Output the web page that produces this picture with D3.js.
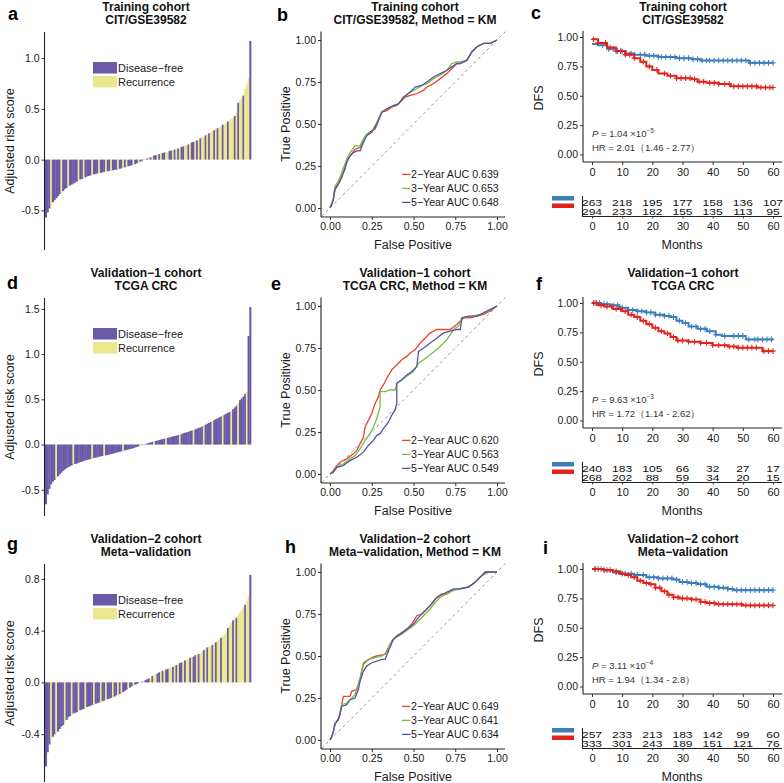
<!DOCTYPE html>
<html><head><meta charset="utf-8">
<script src="https://cdn.jsdelivr.net/npm/d3@7"></script>
<style>
body{margin:0;background:#fff;}
svg text{font-family:"Liberation Sans",Arial,Helvetica,sans-serif;}
</style></head><body>
<script>
// ---------------- DATA ----------------
const groupLabels = ["Disease\u2212free", "Recurrence"];
const rocLabels = ["2\u2212Year AUC", "3\u2212Year AUC", "5\u2212Year AUC"];
const monthTicks = [0, 10, 20, 30, 40, 50, 60];

// Waterfall (sorted adjusted risk scores) + status (1 = recurrence)
const scoreCIT = [-0.57,-0.52,-0.48,-0.45,-0.42,-0.40,-0.38,-0.36,-0.34,-0.33,
-0.31,-0.29,-0.28,-0.27,-0.255,-0.245,-0.235,-0.225,-0.215,-0.205,
-0.195,-0.19,-0.18,-0.175,-0.165,-0.16,-0.155,-0.15,-0.145,-0.14,
-0.135,-0.13,-0.13,-0.125,-0.12,-0.12,-0.115,-0.11,-0.11,-0.105,
-0.10,-0.10,-0.095,-0.09,-0.085,-0.08,-0.075,-0.07,-0.065,-0.06,
-0.055,-0.05,-0.045,-0.035,-0.03,-0.02,-0.01,-0.003,0.005,0.012,
0.02,0.025,0.032,0.04,0.045,0.05,0.055,0.06,0.065,0.07,
0.075,0.08,0.085,0.09,0.095,0.10,0.105,0.11,0.12,0.125,
0.13,0.14,0.145,0.15,0.16,0.17,0.175,0.185,0.19,0.20,
0.21,0.22,0.23,0.24,0.25,0.26,0.27,0.28,0.29,0.30,
0.31,0.32,0.33,0.345,0.355,0.365,0.375,0.385,0.40,0.41,
0.43,0.46,0.56,0.58,0.61,0.63,0.70,0.74,0.80,1.17];
const statusCIT = "000100000100010000010010000100" + "010001001000100101000100100010" +
                  "101001010011001010100110100101" + "011010110101101101110101101110";

const scoreTCGA = [-0.66,-0.55,-0.49,-0.44,-0.41,-0.39,-0.37,-0.35,-0.33,-0.31,
-0.29,-0.275,-0.26,-0.25,-0.24,-0.23,-0.22,-0.215,-0.21,-0.20,
-0.195,-0.19,-0.18,-0.175,-0.17,-0.165,-0.16,-0.155,-0.15,-0.145,
-0.14,-0.135,-0.13,-0.125,-0.12,-0.12,-0.115,-0.11,-0.105,-0.10,
-0.095,-0.09,-0.085,-0.08,-0.075,-0.07,-0.065,-0.06,-0.055,-0.05,
-0.045,-0.04,-0.032,-0.025,-0.018,-0.012,-0.006,0.002,0.006,0.012,
0.018,0.024,0.03,0.035,0.04,0.045,0.05,0.055,0.06,0.065,
0.07,0.075,0.08,0.085,0.09,0.095,0.10,0.105,0.11,0.115,
0.125,0.13,0.135,0.14,0.15,0.155,0.16,0.17,0.175,0.185,
0.19,0.20,0.21,0.22,0.23,0.24,0.25,0.26,0.27,0.28,
0.29,0.30,0.31,0.32,0.33,0.34,0.35,0.36,0.375,0.39,
0.41,0.43,0.46,0.49,0.51,0.53,0.56,0.58,1.2,1.52];
const statusTCGA = "000000100000000010000000000100" + "000010000000000100000000010000" +
                   "000100000010000000100000001000" + "001000010000010000100010000100";

const scoreMeta = [-0.65,-0.54,-0.48,-0.44,-0.42,-0.40,-0.39,-0.38,-0.36,-0.34,
-0.33,-0.31,-0.29,-0.27,-0.26,-0.25,-0.24,-0.235,-0.23,-0.22,
-0.215,-0.21,-0.205,-0.20,-0.19,-0.185,-0.18,-0.175,-0.17,-0.165,
-0.16,-0.155,-0.15,-0.145,-0.14,-0.135,-0.13,-0.125,-0.12,-0.115,
-0.11,-0.10,-0.095,-0.09,-0.08,-0.075,-0.065,-0.055,-0.045,-0.04,
-0.03,-0.025,-0.018,-0.012,-0.005,0.002,0.006,0.012,0.018,0.025,
0.03,0.04,0.05,0.058,0.065,0.07,0.078,0.085,0.09,0.095,
0.10,0.105,0.11,0.115,0.12,0.13,0.135,0.14,0.15,0.155,
0.16,0.17,0.175,0.18,0.19,0.195,0.20,0.21,0.215,0.22,
0.23,0.24,0.25,0.26,0.27,0.275,0.28,0.29,0.30,0.31,
0.32,0.33,0.345,0.36,0.37,0.39,0.42,0.44,0.46,0.48,
0.49,0.50,0.52,0.54,0.56,0.58,0.60,0.63,0.67,0.83];
const statusMeta = "000100100001000100010001000010" + "001001000100101000100100010100" +
                   "010110010100110101001011010010" + "110101101011011101101011110110";

// ROC curves [false positive, true positive]
const rocCIT_2y = [[0,0],[0.01,0.02],[0.02,0.05],[0.03,0.12],[0.05,0.15],[0.07,0.19],[0.09,0.23],[0.1,0.28],[0.12,0.31],[0.15,0.35],[0.18,0.36],[0.2,0.40],[0.22,0.44],[0.25,0.46],[0.27,0.47],[0.29,0.52],[0.31,0.57],[0.34,0.58],[0.37,0.60],[0.40,0.61],[0.43,0.64],[0.45,0.66],[0.48,0.67],[0.52,0.68],[0.56,0.70],[0.58,0.72],[0.62,0.74],[0.66,0.77],[0.70,0.80],[0.73,0.83],[0.76,0.86],[0.78,0.86],[0.80,0.87],[0.82,0.88],[0.85,0.93],[0.88,0.96],[0.92,0.98],[0.96,0.98],[1,1]];
const rocCIT_3y = [[0,0],[0.01,0.03],[0.02,0.06],[0.03,0.13],[0.05,0.16],[0.07,0.21],[0.1,0.29],[0.12,0.33],[0.15,0.37],[0.18,0.37],[0.2,0.41],[0.22,0.44],[0.25,0.45],[0.28,0.51],[0.31,0.57],[0.34,0.59],[0.38,0.61],[0.41,0.62],[0.44,0.66],[0.48,0.69],[0.52,0.71],[0.55,0.73],[0.58,0.74],[0.62,0.77],[0.66,0.79],[0.70,0.82],[0.73,0.86],[0.76,0.87],[0.78,0.87],[0.82,0.88],[0.85,0.93],[0.88,0.96],[0.92,0.98],[0.96,0.98],[1,1]];
const rocCIT_5y = [[0,0],[0.01,0.02],[0.02,0.05],[0.03,0.11],[0.05,0.14],[0.07,0.18],[0.1,0.27],[0.12,0.31],[0.14,0.33],[0.16,0.34],[0.18,0.34],[0.2,0.39],[0.22,0.43],[0.25,0.45],[0.28,0.50],[0.31,0.57],[0.34,0.59],[0.38,0.61],[0.41,0.62],[0.44,0.66],[0.48,0.69],[0.51,0.72],[0.55,0.73],[0.58,0.75],[0.62,0.78],[0.66,0.80],[0.70,0.82],[0.73,0.84],[0.76,0.86],[0.78,0.86],[0.82,0.88],[0.85,0.93],[0.88,0.96],[0.92,0.98],[0.96,0.98],[1,1]];
const aucCIT = ["0.639", "0.653", "0.648"];

const rocTCGA_2y = [[0,0],[0.02,0.02],[0.04,0.05],[0.06,0.07],[0.10,0.09],[0.14,0.12],[0.16,0.14],[0.18,0.18],[0.20,0.22],[0.21,0.28],[0.23,0.32],[0.25,0.36],[0.27,0.42],[0.29,0.46],[0.30,0.50],[0.32,0.53],[0.34,0.57],[0.37,0.62],[0.40,0.65],[0.43,0.68],[0.46,0.70],[0.48,0.72],[0.51,0.74],[0.54,0.78],[0.57,0.81],[0.60,0.84],[0.64,0.86],[0.68,0.86],[0.72,0.86],[0.76,0.89],[0.80,0.93],[0.84,0.93],[0.88,0.94],[0.92,0.95],[0.96,0.97],[1,1]];
const rocTCGA_3y = [[0,0],[0.02,0.01],[0.04,0.04],[0.08,0.06],[0.12,0.09],[0.15,0.11],[0.18,0.15],[0.21,0.20],[0.24,0.24],[0.26,0.28],[0.28,0.33],[0.30,0.40],[0.30,0.49],[0.33,0.49],[0.36,0.50],[0.39,0.50],[0.40,0.54],[0.44,0.57],[0.47,0.59],[0.50,0.61],[0.53,0.66],[0.56,0.68],[0.60,0.71],[0.65,0.75],[0.70,0.80],[0.74,0.86],[0.77,0.88],[0.79,0.93],[0.85,0.94],[0.90,0.95],[0.95,0.97],[1,1]];
const rocTCGA_5y = [[0,0],[0.02,0.01],[0.04,0.04],[0.08,0.05],[0.12,0.08],[0.16,0.10],[0.20,0.13],[0.23,0.17],[0.26,0.20],[0.28,0.23],[0.30,0.24],[0.32,0.27],[0.35,0.31],[0.37,0.35],[0.39,0.38],[0.40,0.42],[0.40,0.54],[0.43,0.56],[0.46,0.59],[0.49,0.61],[0.52,0.64],[0.53,0.73],[0.56,0.75],[0.60,0.78],[0.64,0.81],[0.68,0.84],[0.72,0.85],[0.76,0.86],[0.78,0.86],[0.79,0.93],[0.83,0.94],[0.88,0.94],[0.92,0.96],[0.96,0.98],[1,1]];
const aucTCGA = ["0.620", "0.563", "0.549"];

const rocMeta_2y = [[0,0],[0.01,0.02],[0.02,0.05],[0.03,0.09],[0.04,0.11],[0.06,0.15],[0.07,0.21],[0.08,0.26],[0.12,0.26],[0.13,0.29],[0.16,0.30],[0.18,0.36],[0.19,0.41],[0.20,0.45],[0.22,0.47],[0.25,0.49],[0.28,0.50],[0.33,0.51],[0.35,0.55],[0.37,0.59],[0.40,0.62],[0.43,0.64],[0.46,0.66],[0.49,0.69],[0.52,0.74],[0.55,0.75],[0.58,0.78],[0.61,0.81],[0.64,0.85],[0.67,0.87],[0.70,0.87],[0.73,0.89],[0.77,0.90],[0.82,0.91],[0.86,0.93],[0.88,0.95],[0.91,0.98],[0.93,1.0],[1,1]];
const rocMeta_3y = [[0,0],[0.01,0.02],[0.02,0.05],[0.03,0.10],[0.05,0.12],[0.06,0.16],[0.07,0.21],[0.10,0.22],[0.12,0.24],[0.15,0.27],[0.18,0.37],[0.20,0.46],[0.23,0.48],[0.27,0.49],[0.31,0.50],[0.34,0.52],[0.36,0.57],[0.39,0.61],[0.43,0.63],[0.47,0.66],[0.50,0.68],[0.53,0.71],[0.57,0.75],[0.60,0.78],[0.63,0.82],[0.66,0.85],[0.70,0.87],[0.74,0.89],[0.78,0.90],[0.83,0.91],[0.87,0.94],[0.90,0.97],[0.93,0.99],[0.96,1.0],[1,1]];
const rocMeta_5y = [[0,0],[0.01,0.02],[0.02,0.05],[0.03,0.10],[0.05,0.12],[0.06,0.16],[0.07,0.20],[0.10,0.21],[0.12,0.24],[0.15,0.25],[0.17,0.30],[0.18,0.35],[0.20,0.41],[0.22,0.44],[0.25,0.46],[0.28,0.47],[0.31,0.48],[0.33,0.48],[0.35,0.53],[0.38,0.60],[0.42,0.63],[0.46,0.66],[0.50,0.69],[0.53,0.73],[0.56,0.76],[0.60,0.80],[0.63,0.84],[0.66,0.86],[0.70,0.88],[0.74,0.90],[0.78,0.90],[0.83,0.91],[0.87,0.94],[0.90,0.97],[0.93,1.0],[0.97,1.0],[1,1]];
const aucMeta = ["0.649", "0.641", "0.634"];

// Kaplan-Meier curves [month, DFS]; low risk (blue), high risk (red)
const kmCIT_low  = [[0,0.94],[2,0.93],[5,0.90],[8,0.88],[11,0.86],[14,0.85],[18,0.84],[22,0.83],[28,0.82],[33,0.81],[36,0.80],[40,0.80],[50,0.80],[52,0.78],[60,0.78]];
const kmCIT_high = [[0,0.98],[2,0.95],[5,0.91],[8,0.88],[11,0.85],[14,0.82],[16,0.79],[18,0.75],[20,0.72],[22,0.69],[25,0.67],[28,0.65],[33,0.64],[35,0.62],[38,0.61],[42,0.60],[46,0.58],[55,0.57],[60,0.57]];
const cenCIT_low  = [3.5,5.5,7,8.5,10,11.5,13,14,16,17.5,19,20.5,22,23,24.5,26,27.5,29,30.5,32,33.5,35,36.5,38,39,40.5,42,43.5,45,46.5,48,49.5,51,52.5,54,55.5,57,58.5,60];
const cenCIT_high = [0.5,2,4.5,6,8,9.5,11,12.5,14,17,19,21.5,24,26,28,29.5,31,32.5,34,35.5,37,39,40.5,42,44,45.5,47,48.5,50,51.5,53,54.5,56,57.5,59,60];
const riskCIT_low  = [263,218,195,177,158,136,107];
const riskCIT_high = [294,233,182,155,135,113,95];

const kmTCGA_low  = [[0,1.0],[3,0.99],[6,0.98],[9,0.96],[12,0.94],[15,0.93],[18,0.92],[21,0.90],[24,0.89],[26,0.88],[28,0.85],[30,0.83],[32,0.80],[35,0.78],[38,0.76],[41,0.73],[43,0.72],[50,0.72],[51,0.69],[60,0.69]];
const kmTCGA_high = [[0,1.0],[2,0.98],[4,0.97],[7,0.95],[10,0.93],[12,0.90],[14,0.88],[16,0.85],[18,0.82],[20,0.79],[22,0.76],[24,0.74],[26,0.71],[28,0.68],[32,0.67],[36,0.66],[40,0.64],[45,0.63],[48,0.62],[56,0.62],[56.5,0.59],[60,0.59]];
const cenTCGA_low  = [1,2.5,4,5,7,8.5,10,12,13.5,15,16.5,18,19.5,21,22.5,24,25.5,27,29,31,33,34.5,36,37.5,39,41,44,47,48.5,50,52,54,55,56.5,58,59.5];
const cenTCGA_high = [0.5,1.5,3,5,6.5,8,9.5,11,13,15,17,19,21,23,25,27,28.5,30,32,34,36,38,40,42,44,45.5,47,48.5,50,51.5,53,54.5,57,58.5,60];
const riskTCGA_low  = [240,183,105,66,32,27,17];
const riskTCGA_high = [268,202,88,59,34,20,15];

const kmMeta_low  = [[0,1.0],[4,0.99],[7,0.97],[10,0.96],[14,0.95],[18,0.93],[22,0.92],[27,0.91],[29,0.89],[32,0.88],[35,0.87],[38,0.85],[42,0.84],[45,0.83],[47,0.82],[60,0.82]];
const kmMeta_high = [[0,1.0],[4,0.99],[7,0.98],[9,0.96],[11,0.95],[13,0.93],[15,0.90],[17,0.88],[19,0.87],[21,0.84],[23,0.81],[25,0.78],[27,0.76],[29,0.75],[33,0.74],[36,0.72],[38,0.71],[41,0.70],[50,0.69],[60,0.69]];
const cenMeta_low  = [1,3,5,8,9.5,11,13,15,17,19,20.5,22,23.5,25,26.5,28,30,31.5,33,34.5,36,37.5,39,40.5,42,43.5,45,46.5,48,49.5,51,52.5,54,55.5,57,58.5,60];
const cenMeta_high = [1,2,4,6,8,10,12,14,16,18,19.5,21,22.5,24,25.5,27,28.5,30,31.5,33,34.5,36,37.5,39,40.5,42,43.5,45,46.5,48,49.5,51,52.5,54,55.5,57,58.5,60];
const riskMeta_low  = [257,233,213,183,142,99,60];
const riskMeta_high = [333,301,243,189,151,121,76];

const pCIT = ["1.04", "\u22125"], hrCIT = "HR = 2.01\uFF081.46 - 2.77\uFF09";
const pTCGA = ["9.63", "\u22123"], hrTCGA = "HR = 1.72\uFF081.14 - 2.62\uFF09";
const pMeta = ["3.11", "\u22124"], hrMeta = "HR = 1.94\uFF081.34 - 2.8\uFF09";

// ---------------- DRAWING ----------------
const C = {purple:"#6a5aa8", yellow:"#ebe78e", red:"#e8432f", green:"#76c043", blue:"#5454a6",
           kmBlue:"#3a7ebb", kmRed:"#e2231d"};
const rowY = [0, 266, 532];
const svg = d3.select("body").append("svg").attr("width", 784).attr("height", 783);
svg.append("rect").attr("width",784).attr("height",783).attr("fill","#fff");

function styleAxis(sel) {
  sel.attr("font-family", '"Liberation Sans", Arial, sans-serif').attr("font-size", 10.5);
  sel.select(".domain").remove();
  sel.selectAll(".tick line").attr("stroke", "#333");
  sel.selectAll(".tick text").attr("fill", "#1a1a1a");
}
function vline(g, x, y1, y2, w) { g.append("line").attr("x1",x).attr("x2",x).attr("y1",y1).attr("y2",y2).attr("stroke","#222").attr("stroke-width",w||1.1); }
function hline(g, y, x1, x2, w) { g.append("line").attr("x1",x1).attr("x2",x2).attr("y1",y).attr("y2",y).attr("stroke","#222").attr("stroke-width",w||1.1); }
function titles(g, cx, t1, t2) {
  [t1, t2].forEach((t, i) => g.append("text").attr("x", cx).attr("y", 11 + 13 * i)
    .attr("text-anchor","middle").attr("font-weight","bold").attr("font-size",12).attr("fill","#111").text(t));
}
function letter(x, y, t) {
  svg.append("text").attr("x",x).attr("y",y).attr("font-weight","bold").attr("font-size",18).attr("fill","#000").text(t);
}
function yTitle(g, x, y, t) {
  g.append("text").attr("transform",`translate(${x},${y}) rotate(-90)`).attr("text-anchor","middle")
    .attr("font-size",12.5).attr("fill","#1a1a1a").text(t);
}

function drawWaterfall(row, values, status, domain, ticks, t1, t2) {
  const g = svg.append("g").attr("transform", `translate(0,${rowY[row]})`);
  const x = d3.scaleBand().domain(d3.range(values.length)).range([45, 251]).padding(0);
  const y = d3.scaleLinear().domain(domain).range([250, 32]);
  g.selectAll("rect.bar").data(values).join("rect").attr("class","bar")
    .attr("x", (d, i) => x(i)).attr("width", x.bandwidth() + 0.35)
    .attr("y", d => y(Math.max(0, d))).attr("height", d => Math.abs(y(d) - y(0)))
    .attr("fill", (d, i) => status[i] === "1" ? C.yellow : C.purple);
  const ax = g.append("g").attr("transform","translate(44.5,0)")
    .call(d3.axisLeft(y).tickValues(ticks).tickSize(3).tickPadding(2).tickFormat(d => d.toFixed(1)));
  styleAxis(ax);
  vline(g, 44.5, 32, 250);
  yTitle(g, 14, 141, "Adjusted risk score");
  titles(g, 146, t1, t2);
  groupLabels.forEach((lab, i) => {
    g.append("rect").attr("x",93).attr("y",62 + 14 * i).attr("width",24).attr("height",11.5)
      .attr("fill", i === 0 ? C.purple : C.yellow);
    g.append("text").attr("x",118).attr("y",72 + 14 * i).attr("font-size",11).attr("fill","#1a1a1a").text(lab);
  });
}

function drawROC(row, curves, aucs, t1, t2) {
  const g = svg.append("g").attr("transform", `translate(0,${rowY[row]})`);
  const x = d3.scaleLinear().domain([0, 1]).range([330, 497]);
  const y = d3.scaleLinear().domain([0, 1]).range([208, 40]);
  const tf = d3.format(".2f");
  g.append("line").attr("x1", x(-0.05)).attr("y1", y(-0.05)).attr("x2", x(1.05)).attr("y2", y(1.05))
    .attr("stroke","#9a9a9a").attr("stroke-width",1).attr("stroke-dasharray","3,3");
  const line = d3.line().x(d => x(d[0])).y(d => y(d[1]));
  const cols = [C.red, C.green, C.blue];
  curves.forEach((c, i) => g.append("path").datum(c).attr("d", line).attr("fill","none")
    .attr("stroke", cols[i]).attr("stroke-width", 1.3));
  const ay = g.append("g").attr("transform","translate(321,0)")
    .call(d3.axisLeft(y).tickValues([0,0.25,0.5,0.75,1]).tickSize(3).tickPadding(2).tickFormat(tf));
  styleAxis(ay);
  const ax = g.append("g").attr("transform","translate(0,217)")
    .call(d3.axisBottom(x).tickValues([0,0.25,0.5,0.75,1]).tickSize(3).tickPadding(3).tickFormat(tf));
  styleAxis(ax);
  vline(g, 321, 31.5, 217);
  hline(g, 217, 321, 505);
  yTitle(g, 290, 124, "True Positivie");
  g.append("text").attr("x",413).attr("y",249).attr("text-anchor","middle").attr("font-size",12.5).attr("fill","#1a1a1a").text("False Positive");
  titles(g, 415, t1, t2);
  rocLabels.forEach((lab, i) => {
    const by = 178 + 14 * i;
    g.append("line").attr("x1",402).attr("x2",410.5).attr("y1",by - 3.6).attr("y2",by - 3.6).attr("stroke",cols[i]).attr("stroke-width",1.3);
    g.append("text").attr("x",411).attr("y",by).attr("font-size",10.6).attr("fill","#1a1a1a").text(lab + " " + aucs[i]);
  });
}

function stepAt(curve, t) {
  let v = curve[0][1];
  for (const p of curve) { if (p[0] <= t) v = p[1]; else break; }
  return v;
}

function drawKM(row, low, high, cLow, cHigh, rLow, rHigh, p, hr, t1, t2) {
  const g = svg.append("g").attr("transform", `translate(0,${rowY[row]})`);
  const x = d3.scaleLinear().domain([0, 60]).range([592, 773]);
  const y = d3.scaleLinear().domain([0, 1]).range([154.5, 37]);
  const line = d3.line().x(d => x(d[0])).y(d => y(d[1])).curve(d3.curveStepAfter);
  [[low, cLow, C.kmBlue], [high, cHigh, C.kmRed]].forEach(([cv, cen, col]) => {
    g.append("path").datum(cv).attr("d", line).attr("fill","none").attr("stroke",col).attr("stroke-width",2);
    g.selectAll(null).data(cen).join("path")
      .attr("transform", t => `translate(${x(t)},${y(stepAt(cv, t))})`)
      .attr("d","M-2.6,0H2.6M0,-2.8V2.8").attr("stroke",col).attr("stroke-width",1.1);
  });
  const ay = g.append("g").attr("transform","translate(583,0)")
    .call(d3.axisLeft(y).tickValues([0,0.25,0.5,0.75,1]).tickSize(3).tickPadding(2).tickFormat(d3.format(".2f")));
  styleAxis(ay);
  const ax = g.append("g").attr("transform","translate(0,162)")
    .call(d3.axisBottom(x).tickValues(monthTicks).tickSize(3).tickPadding(3));
  styleAxis(ax);
  ax.attr("font-size", 11);
  vline(g, 583, 31, 162);
  hline(g, 162, 583, 782);
  yTitle(g, 543, 98, "DFS");
  titles(g, 683, t1, t2);
  const pt = g.append("text").attr("x",592).attr("y",136.5).attr("font-size",9.5).attr("fill","#333");
  pt.append("tspan").attr("font-style","italic").text("P");
  pt.append("tspan").text(" = " + p[0] + " \u00D710");
  pt.append("tspan").attr("dy",-4).attr("font-size",6.5).text(p[1]);
  g.append("text").attr("x",592).attr("y",151).attr("font-size",9.5).attr("fill","#333").text(hr);
  // risk table
  g.append("rect").attr("x",552).attr("y",196).attr("width",22).attr("height",4.5).attr("fill",C.kmBlue);
  g.append("rect").attr("x",552).attr("y",203.5).attr("width",22).attr("height",4.5).attr("fill",C.kmRed);
  [[rLow, 205.8], [rHigh, 214.8]].forEach(([vals, by]) => {
    g.selectAll(null).data(vals).join("text")
      .attr("transform", (d, i) => `translate(${x(monthTicks[i])},${by}) scale(1.05,0.78)`)
      .attr("text-anchor","middle").attr("font-size",11.5).attr("fill","#111").text(d => d);
  });
  vline(g, 582.5, 196, 216.5);
  hline(g, 216.5, 582, 782);
  const at = g.append("g").attr("transform","translate(0,216.5)")
    .call(d3.axisBottom(x).tickValues(monthTicks).tickSize(2).tickPadding(4));
  styleAxis(at);
  at.attr("font-size", 11);
  g.append("text").attr("x",682).attr("y",249).attr("text-anchor","middle").attr("font-size",12.5).attr("fill","#1a1a1a").text("Months");
}

drawWaterfall(0, scoreCIT, statusCIT, [-0.89, 1.257], [-0.5, 0, 0.5, 1.0], "Training cohort", "CIT/GSE39582");
drawROC(0, [rocCIT_2y, rocCIT_3y, rocCIT_5y], aucCIT, "Training cohort", "CIT/GSE39582, Method = KM");
drawKM(0, kmCIT_low, kmCIT_high, cenCIT_low, cenCIT_high, riskCIT_low, riskCIT_high, pCIT, hrCIT, "Training cohort", "CIT/GSE39582");

drawWaterfall(1, scoreTCGA, statusTCGA, [-0.79, 1.62], [-0.5, 0, 0.5, 1.0, 1.5], "Validation\u22121 cohort", "TCGA CRC");
drawROC(1, [rocTCGA_2y, rocTCGA_3y, rocTCGA_5y], aucTCGA, "Validation\u22121 cohort", "TCGA CRC, Method = KM");
drawKM(1, kmTCGA_low, kmTCGA_high, cenTCGA_low, cenTCGA_high, riskTCGA_low, riskTCGA_high, pTCGA, hrTCGA, "Validation\u22121 cohort", "TCGA CRC");

drawWaterfall(2, scoreMeta, statusMeta, [-0.77, 0.915], [-0.4, 0, 0.4, 0.8], "Validation\u22122 cohort", "Meta\u2212validation");
drawROC(2, [rocMeta_2y, rocMeta_3y, rocMeta_5y], aucMeta, "Validation\u22122 cohort", "Meta\u2212validation, Method = KM");
drawKM(2, kmMeta_low, kmMeta_high, cenMeta_low, cenMeta_high, riskMeta_low, riskMeta_high, pMeta, hrMeta, "Validation\u22122 cohort", "Meta\u2212validation");

[["a",8,20],["b",277,21],["c",531,19],["d",7,289],["e",271,290],["f",536,290],["g",7,550],["h",285,553],["i",543,554]]
  .forEach(([t, x, y]) => letter(x, y, t));
</script></body></html>
